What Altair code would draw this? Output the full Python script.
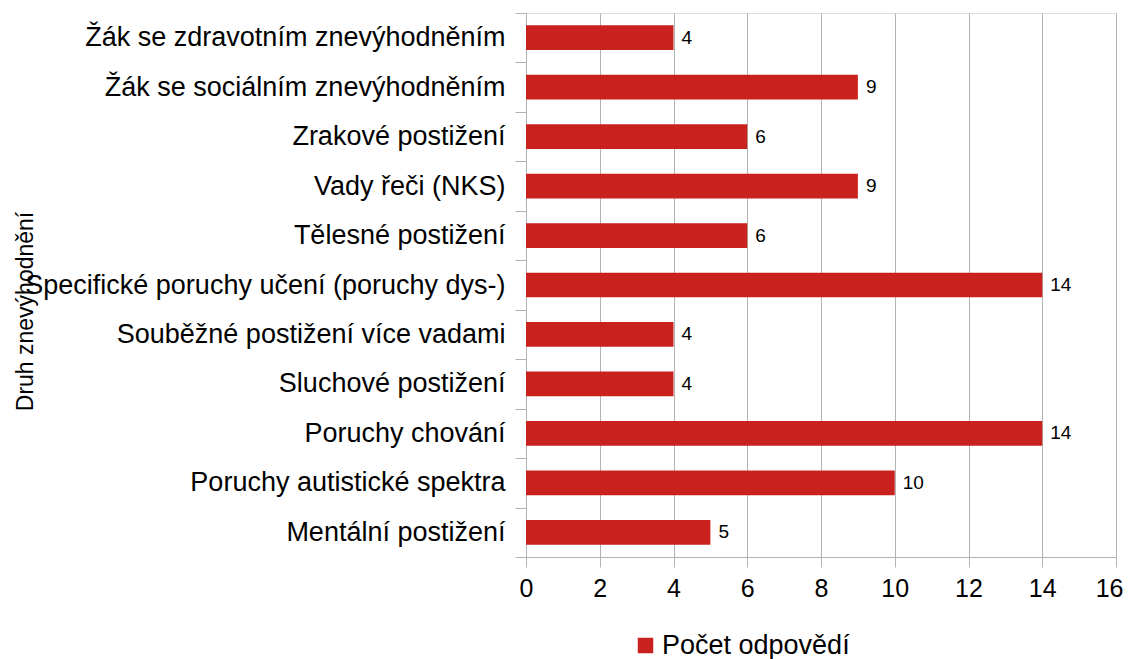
import altair as alt
import pandas as pd

categories = [
    "Žák se zdravotním znevýhodněním",
    "Žák se sociálním znevýhodněním",
    "Zrakové postižení",
    "Vady řeči (NKS)",
    "Tělesné postižení",
    "Specifické poruchy učení (poruchy dys-)",
    "Souběžné postižení více vadami",
    "Sluchové postižení",
    "Poruchy chování",
    "Poruchy autistické spektra",
    "Mentální postižení",
]
values = [4, 9, 6, 9, 6, 14, 4, 4, 14, 10, 5]
series_name = "Počet odpovědí"
x_ticks = [0, 2, 4, 6, 8, 10, 12, 14, 16]

df = pd.DataFrame({"cat": categories, "val": values, "series": [series_name] * len(values)})

FONT = "Liberation Sans"
GRID = "#b3b3b3"
RED = "#C9211E"

y_enc = alt.Y(
    "cat:N",
    sort=None,
    scale=alt.Scale(paddingInner=0, paddingOuter=0),
    axis=alt.Axis(
        title="Druh znevýhodnění",
        titleX=-494,
        titleY=298,
        titleAngle=270,
        titleAlign="center",
        titleBaseline="alphabetic",
        titleFontSize=23,
        titleFontWeight="normal",
        titleFont=FONT,
        titleColor="#000000",
        labelFont=FONT,
        labelFontSize=27,
        labelColor="#000000",
        labelLimit=1000,
        labelPadding=10,
        tickBand="extent",
        tickSize=11,
        tickColor=GRID,
        domainColor=GRID,
        grid=False,
    ),
)

x_enc = alt.X(
    "val:Q",
    scale=alt.Scale(domain=[0, 16], nice=False),
    axis=alt.Axis(
        title=None,
        values=x_ticks,
        labelFont=FONT,
        labelFontSize=25,
        labelColor="#000000",
        labelPadding=9,
        labelFlush=True,
        labelFlushOffset=7,
        tickSize=10,
        tickColor=GRID,
        domainColor=GRID,
        grid=True,
        gridColor=GRID,
    ),
)

bars = alt.Chart(df).mark_bar(height=alt.RelativeBandSize(band=0.5)).encode(
    y=y_enc,
    x=x_enc,
    color=alt.Color(
        "series:N",
        scale=alt.Scale(domain=[series_name], range=[RED]),
        legend=alt.Legend(
            title=None,
            orient="none",
            legendX=106,
            legendY=619,
            symbolType="square",
            symbolSize=240,
            symbolStrokeWidth=0,
            labelFont=FONT,
            labelFontSize=27,
            labelColor="#000000",
            labelOffset=3,
            labelLimit=600,
        ),
    ),
)

labels = alt.Chart(df).mark_text(
    align="left", baseline="middle", dx=8, font=FONT, fontSize=19, color="#000000"
).encode(
    y=alt.Y("cat:N", sort=None),
    x=alt.X("val:Q"),
    text=alt.Text("val:Q"),
)

chart = (
    alt.layer(bars, labels)
    .properties(
        width=590,
        height=544,
        autosize=alt.AutoSizeParams(type="none"),
        padding={"left": 518, "top": 5, "right": 8, "bottom": 102},
    )
    .configure_view(stroke=GRID, strokeWidth=1)
    .configure(background="#ffffff")
)

chart.save("out.html", embed_options={"renderer": "svg", "actions": False})
